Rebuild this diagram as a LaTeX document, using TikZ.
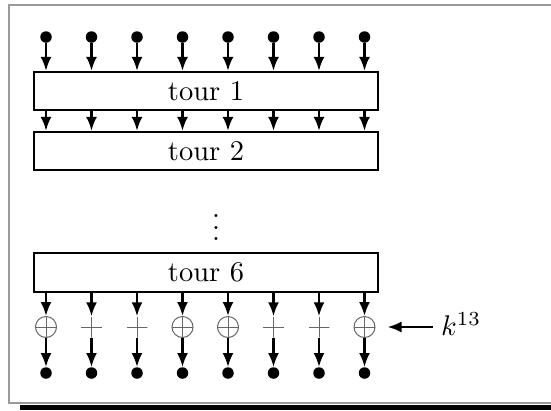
\documentclass[tikz,border=0pt]{standalone}
\usepackage{graphicx}
\usetikzlibrary{arrows.meta}
\begin{document}
\begin{tikzpicture}[x=1pt,y=-1pt,
  dotn/.style={circle,fill,inner sep=0pt,minimum size=11.5pt},
  roundbox/.style={draw,line width=2.2pt,minimum width=344pt,minimum height=38pt,inner sep=0pt},
  arr/.style={line width=2.4pt,-{Latex[length=14pt,width=11pt]}},
  plusmark/.style={path picture={\draw[black!60,line width=1pt] (path picture bounding box.north) -- (path picture bounding box.south) (path picture bounding box.west) -- (path picture bounding box.east);}},
  xorn/.style={circle,draw=black!60,line width=1pt,minimum size=21pt,inner sep=0pt,plusmark},
  plusn/.style={circle,minimum size=21pt,inner sep=0pt,plusmark},
  lbl/.style={inner sep=0pt}]
\useasboundingbox (0,0) rectangle (551,410);
% frame
\draw[gray!80,line width=1.3pt] (551,5) -- (9,5) -- (9,403) -- (551,403);
\fill (20,405) rectangle (551,410);
% boxes
\node[roundbox] (b1) at (206,91) {\scalebox{2.85}{tour 1}};
\node[roundbox] (b2) at (206,151) {\scalebox{2.85}{tour 2}};
\node[roundbox,minimum height=39pt] (b6) at (206,272.5) {\scalebox{2.85}{tour 6}};
\node[lbl] (vd) at (216,219) {\scalebox{2.85}{$\vdots$}};
% columns
\foreach \i in {1,...,8}{
  \pgfmathsetmacro{\xx}{46+45.5*(\i-1)}
  \node[dotn] (t\i) at (\xx,37) {};
  \node[dotn] (d\i) at (\xx,373) {};
}
\foreach \i/\s in {1/xorn,2/plusn,3/plusn,4/xorn,5/xorn,6/plusn,7/plusn,8/xorn}{
  \node[\s] (c\i) at (t\i |- 0,327) {};
}
\foreach \i in {1,...,8}{
  \draw[arr] (t\i.south) -- (t\i |- b1.north);
  \draw[arr] (b1.south -| t\i) -- (b2.north -| t\i);
  \draw[arr] (b6.south -| t\i) -- (c\i.north);
  \draw[arr] (c\i.south) -- (d\i.north);
}
\node[lbl,anchor=west] (k) at (441,324) {\scalebox{2.85}{$k^{13}$}};
\coordinate (ks) at (433,327);
\draw[arr,shorten >=12pt] (ks) -- (c8.east);
\end{tikzpicture}
\end{document}
